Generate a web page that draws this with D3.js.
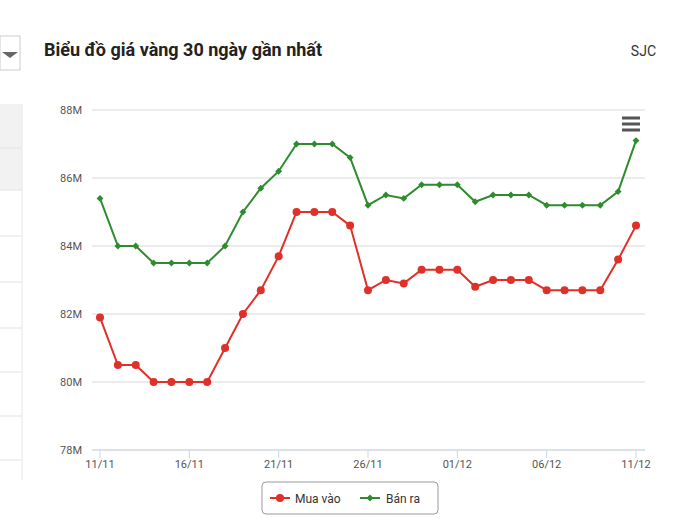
<!DOCTYPE html>
<html><head><meta charset="utf-8">
<script src="https://cdn.jsdelivr.net/npm/d3@7"></script>
<style>body{margin:0;background:#fff;font-family:Roboto,"Open Sans",sans-serif}</style>
</head><body>
<svg id="c" width="700" height="520"></svg>
<script>
const dates = ["11/11","12/11","13/11","14/11","15/11","16/11","17/11","18/11","19/11","20/11","21/11","22/11","23/11","24/11","25/11","26/11","27/11","28/11","29/11","30/11","01/12","02/12","03/12","04/12","05/12","06/12","07/12","08/12","09/12","10/12","11/12"];
const muaVao = [81.9,80.5,80.5,80,80,80,80,81,82,82.7,83.7,85,85,85,84.6,82.7,83,82.9,83.3,83.3,83.3,82.8,83,83,83,82.7,82.7,82.7,82.7,83.6,84.6];
const banRa = [85.4,84,84,83.5,83.5,83.5,83.5,84,85,85.7,86.2,87,87,87,86.6,85.2,85.5,85.4,85.8,85.8,85.8,85.3,85.5,85.5,85.5,85.2,85.2,85.2,85.2,85.6,87.1];
const yTicks = [78,80,82,84,86,88];
const series = [{name:"Mua vào", values:muaVao, color:"#e0302a"},{name:"Bán ra", values:banRa, color:"#2e8b2e"}];

const svg = d3.select("#c");
// left page fragment
svg.append("rect").attr("x",0).attr("y",36).attr("width",20).attr("height",34).attr("fill","none").attr("stroke","#ccc");
svg.append("path").attr("d","M2,52 L10,58 L18,52").attr("fill","#666");
svg.append("rect").attr("x",0).attr("y",104).attr("width",22).attr("height",86).attr("fill","#f2f2f2");
[148,190,236,282,328,372,416,460].forEach(y=>svg.append("line").attr("x1",0).attr("x2",22).attr("y1",y).attr("y2",y).attr("stroke","#e2e2e2"));
svg.append("line").attr("x1",22).attr("x2",22).attr("y1",104).attr("y2",480).attr("stroke","#e6e6e6");

svg.append("text").attr("x",44).attr("y",56).attr("font-size",18).attr("font-weight","bold").attr("fill","#222").text("Biểu đồ giá vàng 30 ngày gần nhất");
svg.append("text").attr("x",656).attr("y",56).attr("text-anchor","end").attr("font-size",14).attr("fill","#333").text("SJC");

const x = d3.scalePoint().domain(dates).range([100,636]);
const y = d3.scaleLinear().domain([78,88]).range([450,110]);

yTicks.forEach(t=>{
  svg.append("line").attr("x1",92).attr("x2",645).attr("y1",y(t)).attr("y2",y(t)).attr("stroke","#d8d8d8");
  svg.append("text").attr("x",82).attr("y",y(t)+4).attr("text-anchor","end").attr("font-size",11).attr("fill","#555").text(t+"M");
});
svg.append("line").attr("x1",92).attr("x2",645).attr("y1",450).attr("y2",450).attr("stroke","#ccd6eb");
dates.forEach((d,i)=>{
  if(i%5===0){
    svg.append("line").attr("x1",x(d)).attr("x2",x(d)).attr("y1",450).attr("y2",458).attr("stroke","#ccd6eb");
    svg.append("text").attr("x",x(d)).attr("y",468).attr("text-anchor","middle").attr("font-size",11).attr("fill","#555").text(d);
  }
});

const line = d3.line().x((v,i)=>x(dates[i])).y(v=>y(v));
series.forEach(s=>{
  svg.append("path").attr("d",line(s.values)).attr("fill","none").attr("stroke",s.color).attr("stroke-width",2);
});
svg.selectAll(".dot").data(muaVao).enter().append("circle")
  .attr("cx",(v,i)=>x(dates[i])).attr("cy",v=>y(v)).attr("r",4).attr("fill","#e0302a");
svg.selectAll(".dia").data(banRa).enter().append("path")
  .attr("d",d3.symbol(d3.symbolDiamond2,30))
  .attr("transform",(v,i)=>`translate(${x(dates[i])},${y(v)})`).attr("fill","#2e8b2e");

// menu icon
[118,124,130].forEach(yy=>svg.append("rect").attr("x",622).attr("y",yy-1.5).attr("width",18).attr("height",3).attr("fill","#555"));

// legend
const lg = svg.append("g");
lg.append("rect").attr("x",262).attr("y",482).attr("width",176).attr("height",32).attr("rx",4).attr("fill","#fff").attr("stroke","#999");
lg.append("line").attr("x1",270).attr("x2",290).attr("y1",498).attr("y2",498).attr("stroke","#e0302a").attr("stroke-width",2);
lg.append("circle").attr("cx",280).attr("cy",498).attr("r",4).attr("fill","#e0302a");
lg.append("text").attr("x",295).attr("y",503).attr("font-size",12).attr("fill","#333").text("Mua vào");
lg.append("line").attr("x1",360).attr("x2",380).attr("y1",498).attr("y2",498).attr("stroke","#2e8b2e").attr("stroke-width",2);
lg.append("path").attr("d",d3.symbol(d3.symbolDiamond2,30)).attr("transform","translate(370,498)").attr("fill","#2e8b2e");
lg.append("text").attr("x",386).attr("y",503).attr("font-size",12).attr("fill","#333").text("Bán ra");
</script>
</body></html>
